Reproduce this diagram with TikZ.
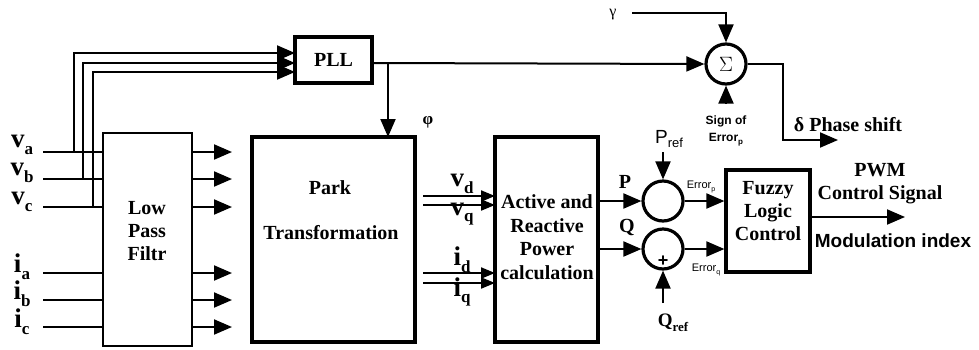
\documentclass[tikz,border=0pt]{standalone}
\usepackage{fontspec}
\setmainfont{Liberation Serif}
\setsansfont{Liberation Sans}
\usetikzlibrary{arrows.meta}
\newcommand\lowsub[2]{\raisebox{-0.25em}{\fontsize{#1}{#1}\selectfont #2}}
\tikzset{
  box/.style={draw, line width=3.2pt},
  thinbox/.style={draw, line width=2pt},
  wire/.style={line width=2pt},
  arr/.style={wire, -{Triangle[length=18pt,width=15pt]}},
  sarr/.style={wire, -{Triangle[length=14pt,width=11pt]}},
  btxt/.style={font=\fontsize{20}{23}\selectfont\bfseries, inner sep=0pt, align=center},
  sumc/.style={circle, draw, line width=3.2pt, minimum size=40pt, inner sep=0pt},
  lbl/.style={inner sep=0pt, font=\bfseries\fontsize{27}{27}\selectfont},
}
\begin{document}
\begin{tikzpicture}[x=1pt,y=-1pt]
\useasboundingbox (0,0) rectangle (979,349);
% blocks
\node[thinbox, minimum width=89pt, minimum height=213pt, inner sep=0pt] (lpf) at (147.5,239.5) {};
\node[btxt] (lpft) at (147,231) {Low\\Pass\\Filtr};
\node[box, minimum width=77pt, minimum height=46pt, inner sep=0pt, btxt] (pll) at (333.5,60) {PLL};
\node[box, minimum width=163pt, minimum height=205pt, inner sep=0pt] (park) at (333.5,239.5) {};
\node[btxt] (parkt1) at (330,188) {Park};
\node[btxt] (parkt2) at (331,233) {Transformation};
\node[box, minimum width=103pt, minimum height=205pt, inner sep=0pt] (act) at (546.5,239.5) {};
\node[btxt, font=\fontsize{20}{23.5}\selectfont\bfseries] (actt) at (547,237) {Active and\\Reactive\\Power\\calculation};
\node[box, minimum width=84pt, minimum height=102pt, inner sep=0pt] (fuz) at (768,221) {};
\node[btxt] (fuzt) at (768,211) {Fuzzy\\Logic\\Control};
\node[sumc] (sig) at (726,64) {\fontsize{22}{22}\selectfont$\Sigma$};
\node[sumc] (cp) at (663,201) {};
\node[sumc] (cq) at (663,249) {};
\node[inner sep=0pt, font=\sffamily\bfseries\fontsize{18}{18}\selectfont] (plus) at (663,261) {+};
% left labels
\node[lbl] (va) at (22,145) {v\lowsub{17}{a}};
\node[lbl] (vb) at (22,173) {v\lowsub{17}{b}};
\node[lbl] (vc) at (22,202) {v\lowsub{17}{c}};
\node[lbl] (ia) at (22,267) {i\lowsub{17}{a}};
\node[lbl] (ib) at (22,294) {i\lowsub{17}{b}};
\node[lbl] (ic) at (22,322) {i\lowsub{17}{c}};
% coordinates
\foreach \n/\y in {a/152,b/179,c/207} {
  \coordinate (iv\n) at (43,\y);
  \coordinate (lv\n) at (103,\y);
  \coordinate (ov\n) at (192,\y);
  \coordinate (tv\n) at (232,\y);
}
\foreach \n/\y in {a/273,b/300,c/327} {
  \coordinate (ii\n) at (43,\y);
  \coordinate (li\n) at (103,\y);
  \coordinate (oi\n) at (192,\y);
  \coordinate (ti\n) at (232,\y);
}
\foreach \n in {a,b,c} {
  \draw[wire] (iv\n) -- (lv\n);
  \draw[wire] (ii\n) -- (li\n);
  \draw[arr] (ov\n) -- (tv\n);
  \draw[arr] (oi\n) -- (ti\n);
}
% taps to PLL
\coordinate (pa) at (295,53);
\coordinate (pb) at (295,63);
\coordinate (pc) at (295,72);
\draw[arr] (74,152) -- (74,53) -- (pa);
\draw[arr] (83,179) -- (83,63) -- (pb);
\draw[arr] (93,207) -- (93,72) -- (pc);
% PLL outputs
\draw[arr] (pll.east |- 0,63) -- (sig.west);
\coordinate (br) at (388,63);
\draw[arr] (br) -- (388,137);
\node[inner sep=0pt, font=\bfseries\fontsize{17}{17}\selectfont] (phi) at (428,122) {φ};
% park to active
\draw[sarr] (423,196) -- (495,196);
\draw[sarr] (423,205) -- (495,205);
\draw[sarr] (423,273) -- (495,273);
\draw[sarr] (423,283) -- (495,283);
\node[lbl] (vd) at (462,184) {v\lowsub{17}{d}};
\node[lbl] (vq) at (462,214) {v\lowsub{17}{q}};
\node[lbl] (id) at (462,260) {i\lowsub{17}{d}};
\node[lbl] (iq) at (462,292) {i\lowsub{17}{q}};
% P and Q
\draw[arr] (act.east |- cp.west) -- (cp.west);
\draw[arr] (act.east |- cq.west) -- (cq.west);
\node[btxt] (pl) at (625,182) {P};
\node[btxt] (ql) at (627,227) {Q};
\coordinate (pr) at (663,152);
\draw[arr] (pr) -- (cp.north);
\node[inner sep=0pt, font=\sffamily\fontsize{19}{19}\selectfont] (prl) at (669,139) {P\lowsub{13}{ref}};
\coordinate (qr) at (663,303);
\draw[arr] (qr) -- (cq.south);
\node[inner sep=0pt, font=\bfseries\fontsize{19}{19}\selectfont] (qrl) at (673,323) {Q\lowsub{13}{ref}};
\draw[arr] (cp.east) -- (fuz.west |- cp.east);
\draw[arr] (cq.east) -- (fuz.west |- cq.east);
\node[inner sep=0pt, font=\sffamily\fontsize{11}{11}\selectfont] (ep) at (701,187) {Error\lowsub{7}{p}};
\node[inner sep=0pt, font=\sffamily\fontsize{11}{11}\selectfont] (eq) at (706,270) {Error\lowsub{7}{q}};
% Fuzzy output
\coordinate (pwm) at (905,217);
\draw[arr] (fuz.east |- pwm) -- (pwm);
\node[btxt] (pwml) at (880,184) {PWM\\Control Signal};
\node[inner sep=0pt, font=\sffamily\bfseries\fontsize{19}{19}\selectfont] (mod) at (893,241) {Modulation index};
% sigma
\node[inner sep=0pt, font=\fontsize{16}{16}\selectfont] (gam) at (613,15) {γ};
\coordinate (g1) at (632,13);
\draw[arr] (g1) -- (726,13) -- (sig.north);
\coordinate (so) at (726,103);
\draw[arr] (so) -- (sig.south);
\node[inner sep=0pt, align=center, font=\sffamily\bfseries\fontsize{12}{17}\selectfont] (sol) at (726,131) {Sign of\\Error\lowsub{8}{p}};
\coordinate (dl) at (838,140);
\draw[arr] (sig.east) -- (783,64) -- (783,140) -- (dl);
\node[btxt] (dlt) at (848,125) {δ Phase shift};
\end{tikzpicture}
\end{document}
